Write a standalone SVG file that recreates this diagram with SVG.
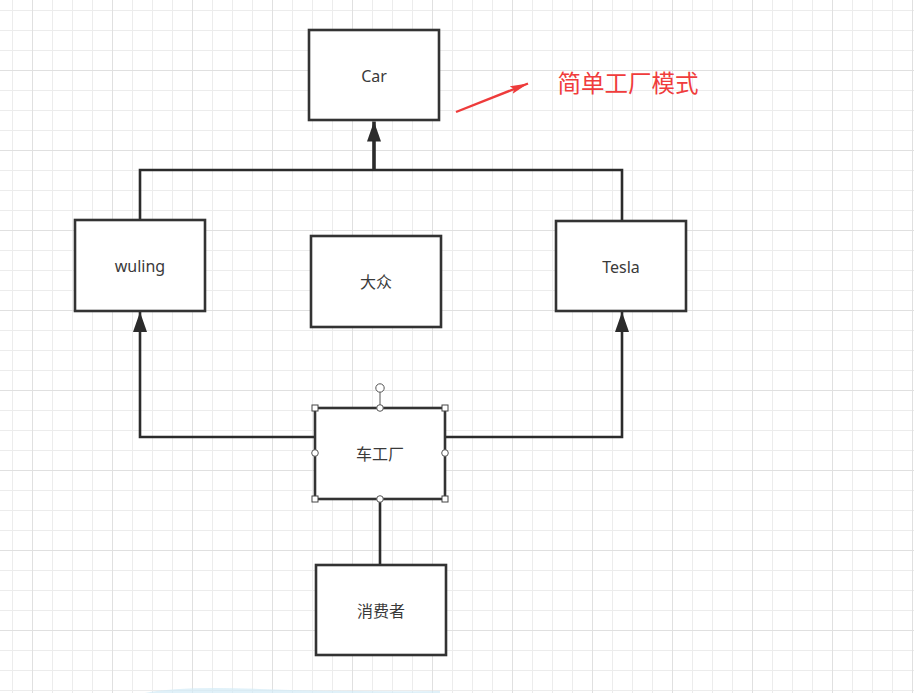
<svg xmlns="http://www.w3.org/2000/svg" width="914" height="693" viewBox="0 0 914 693">
<style>
.box{fill:#fff;stroke:#333;stroke-width:2.6}
.lbl{font-family:"Noto Sans","Noto Sans CJK SC",sans-serif;font-size:16px;fill:#3a3a3a;text-anchor:middle;dominant-baseline:central}
.con{fill:none;stroke:#2b2b2b;stroke-width:2.6}
.hsq{fill:#fff;stroke:#444;stroke-width:1}
.hci{fill:#fff;stroke:#555;stroke-width:1}
</style>
<defs>
<pattern id="grid" patternUnits="userSpaceOnUse" x="32" y="-10" width="80" height="80">
<path d="M20.5 0V80M40.5 0V80M60.5 0V80M0 20.5H80M0 40.5H80M0 60.5H80" stroke="#ececec" stroke-width="1"/>
<path d="M0.5 0V80M0 0.5H80" stroke="#e0e0e0" stroke-width="1"/>
</pattern>
<marker id="tri" markerUnits="userSpaceOnUse" markerWidth="21" markerHeight="15" refX="20" refY="7" orient="auto">
<path d="M0 0L20 7L0 14z" fill="#2b2b2b"/>
</marker>
<marker id="redhead" markerUnits="userSpaceOnUse" markerWidth="20" markerHeight="10" refX="18" refY="4" orient="auto">
<path d="M0 0L18 4L0 8L3 4z" fill="#ee3b3b"/>
</marker>
</defs>
<rect width="914" height="693" fill="#fff"/>
<rect width="914" height="693" fill="url(#grid)"/>
<path d="M145 693Q180 686 260 689T440 691V693Z" fill="#d3ebf6" opacity="0.7"/>

<g id="connectors">
<path class="con" d="M140 220V170H622V221"/>
<path class="con" d="M374 170V121.5" style="stroke-width:3.6" marker-end="url(#tri)"/>
<path class="con" d="M315 437H140V312" marker-end="url(#tri)"/>
<path class="con" d="M445 437H622V312" marker-end="url(#tri)"/>
<path class="con" d="M380 499V565"/>
</g>

<g id="note">
<line x1="456" y1="112" x2="528" y2="83.5" stroke="#ee3b3b" stroke-width="2.4" marker-end="url(#redhead)"/>
<text x="628" y="82" style="font-family:'Noto Sans CJK SC',sans-serif;font-size:23.5px;fill:#f03c3c;text-anchor:middle;dominant-baseline:central">简单工厂模式</text>
</g>

<g id="car">
<rect class="box" x="309" y="30" width="130" height="90"/>
<text class="lbl" x="374" y="76">Car</text>
</g>
<g id="wuling">
<rect class="box" x="75" y="220" width="130" height="91"/>
<text class="lbl" x="140" y="266">wuling</text>
</g>
<g id="dazhong">
<rect class="box" x="311" y="236" width="130" height="91"/>
<text class="lbl" x="376" y="282">大众</text>
</g>
<g id="tesla">
<rect class="box" x="556" y="221" width="130" height="90"/>
<text class="lbl" x="621" y="267">Tesla</text>
</g>
<g id="factory">
<rect class="box" x="315" y="408" width="130" height="91"/>
<text class="lbl" x="380" y="454">车工厂</text>
<line x1="380" y1="392" x2="380" y2="405" stroke="#555" stroke-width="1"/>
<circle class="hci" cx="380" cy="388" r="4.2"/>
<rect class="hsq" x="312" y="405" width="6" height="6"/>
<rect class="hsq" x="442" y="405" width="6" height="6"/>
<rect class="hsq" x="312" y="496" width="6" height="6"/>
<rect class="hsq" x="442" y="496" width="6" height="6"/>
<circle class="hci" cx="380" cy="408" r="3.3"/>
<circle class="hci" cx="315" cy="453" r="3.3"/>
<circle class="hci" cx="445" cy="453" r="3.3"/>
<circle class="hci" cx="380" cy="499" r="3.3"/>
</g>
<g id="consumer">
<rect class="box" x="316" y="565" width="130" height="90"/>
<text class="lbl" x="381" y="611">消费者</text>
</g>
</svg>
